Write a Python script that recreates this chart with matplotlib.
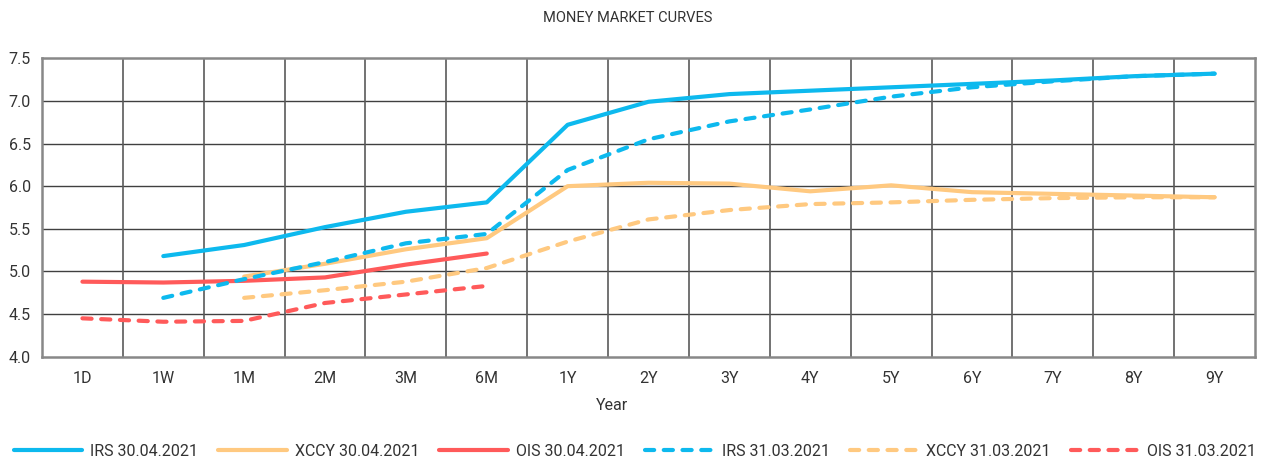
import numpy as np
import matplotlib
matplotlib.use("Agg")
import matplotlib.pyplot as plt

plt.rcParams['font.family'] = ['Roboto', 'DejaVu Sans']

categories = ["1D", "1W", "1M", "2M", "3M", "6M", "1Y", "2Y", "3Y", "4Y", "5Y", "6Y", "7Y", "8Y", "9Y"]
nan = np.nan
irs_apr = [nan, 5.18, 5.31, 5.52, 5.70, 5.81, 6.72, 6.99, 7.08, 7.12, 7.16, 7.20, 7.24, 7.29, 7.32]
xccy_apr = [nan, nan, 4.94, 5.09, 5.26, 5.39, 6.00, 6.04, 6.03, 5.94, 6.01, 5.93, 5.91, 5.89, 5.87]
ois_apr = [4.88, 4.87, 4.89, 4.93, 5.08, 5.21, nan, nan, nan, nan, nan, nan, nan, nan, nan]
irs_mar = [nan, 4.69, 4.91, 5.11, 5.33, 5.44, 6.19, 6.55, 6.76, 6.90, 7.05, 7.16, 7.23, 7.29, 7.32]
xccy_mar = [nan, nan, 4.69, 4.78, 4.88, 5.04, 5.35, 5.61, 5.72, 5.79, 5.81, 5.84, 5.86, 5.87, 5.87]
ois_mar = [4.45, 4.41, 4.42, 4.63, 4.73, 4.83, nan, nan, nan, nan, nan, nan, nan, nan, nan]

series = [
    ("IRS 30.04.2021", irs_apr, "#0DB9EE", "-"),
    ("XCCY 30.04.2021", xccy_apr, "#FFC980", "-"),
    ("OIS 30.04.2021", ois_apr, "#FF5A5A", "-"),
    ("IRS 31.03.2021", irs_mar, "#0DB9EE", "--"),
    ("XCCY 31.03.2021", xccy_mar, "#FFC980", "--"),
    ("OIS 31.03.2021", ois_mar, "#FF5A5A", "--"),
]

fig = plt.figure(figsize=(12.63, 4.59), dpi=100)
ax = fig.add_axes([42/1263, (459-356.7)/459, 1213/1263, 298.4/459])

x = np.arange(len(categories))
for label, vals, color, ls in series:
    line, = ax.plot(x, vals, color=color, lw=3.0, label=label,
                    solid_capstyle='round', dash_capstyle='round')
    if ls == "--":
        line.set_dashes((2.2, 2.3))

ax.set_xlim(-0.5, len(categories) - 0.5)
ax.set_ylim(4.0, 7.5)
ax.set_yticks(np.arange(4.0, 7.51, 0.5))
ax.set_yticklabels([f"{v:.1f}" for v in np.arange(4.0, 7.51, 0.5)], fontsize=11.5, color="#333333")
ax.set_xticks(x)
ax.set_xticklabels(categories, fontsize=11.5, color="#333333")
ax.tick_params(axis='both', length=0)
ax.tick_params(axis='x', pad=10)
ax.tick_params(axis='y', pad=8)

# grid: horizontal at ticks, vertical at category boundaries
for yv in np.arange(4.5, 7.5, 0.5):
    ax.axhline(yv, color="#404040", lw=1.0, zorder=0)
for xv in np.arange(0.5, len(categories) - 0.5, 1.0):
    ax.axvline(xv, color="#5a5a5a", lw=1.2, zorder=0)
for s in ax.spines.values():
    s.set_color("#888888")
    s.set_linewidth(1.8)

ax.set_xlabel("Year", fontsize=11.5, color="#333333")
ax.xaxis.set_label_coords((612 - 42) / 1213, -0.14)

fig.text(628/1263, 1 - 18/459, "MONEY MARKET CURVES", ha="center", va="center",
         fontsize=10.5, color="#333333")

handles, labels = ax.get_legend_handles_labels()
fig.legend(handles, labels, loc="center", bbox_to_anchor=(635/1263, 1 - 451/459), ncol=6,
           frameon=False, fontsize=11.5, handlelength=4.3, columnspacing=1.25,
           handletextpad=0.5, labelcolor="#333333", borderpad=0, borderaxespad=0)

fig.savefig("out.png", dpi=100)
